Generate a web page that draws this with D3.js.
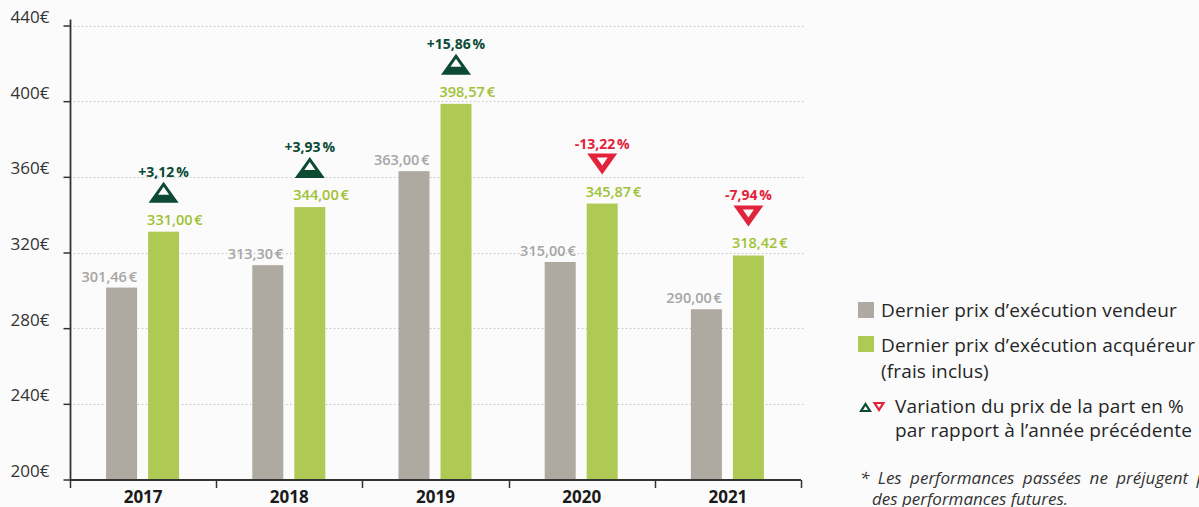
<!DOCTYPE html>
<html><head><meta charset="utf-8">
<script src="https://cdn.jsdelivr.net/npm/d3@7"></script>
<style>
html,body{margin:0;padding:0;background:#fbfbfb;}
svg{display:block;}
text{font-family:"Open Sans",sans-serif;}
</style></head>
<body><svg id="c" width="1199" height="507"></svg>
<script>
const years = ["2017","2018","2019","2020","2021"];
const vendeur = [301.46, 313.30, 363.00, 315.00, 290.00];
const acquereur = [331.00, 344.00, 398.57, 345.87, 318.42];
const variation = [3.12, 3.93, 15.86, -13.22, -7.94];
const yTicks = [200, 240, 280, 320, 360, 400, 440];
const legendLabels = [
  ["Dernier prix d\u2019exécution vendeur"],
  ["Dernier prix d\u2019exécution acquéreur", "(frais inclus)"],
  ["Variation du prix de la part en %", "par rapport à l\u2019année précédente"]
];
const footnote = ["* Les performances passées ne préjugent pas", "des performances futures."];

const C = {gray:"#aeaaa1", green:"#afca54", grayTxt:"#a6a6a6", greenTxt:"#9fc234", up:"#0c4a33", down:"#e3223b", axis:"#333", bg:"#fbfbfb"};

const svg = d3.select("#c");
svg.append("rect").attr("width",1199).attr("height",507).attr("fill",C.bg);

const x = d3.scaleBand().domain(years).range([70, 801]).padding(0);
const y = d3.scaleLinear().domain([200, 440]).range([479.5, 25.5]);
const bw = 31;
const fmt = v => v.toFixed(2).replace(".", ",") + "\u202f€";
const fmtP = v => (v > 0 ? "+" : "") + v.toFixed(2).replace(".", ",") + "\u202f%";

// grid
svg.append("g").selectAll("line").data(yTicks.filter(d => d > 200)).join("line")
  .attr("x1", 70).attr("x2", 804).attr("y1", d => Math.round(y(d)) + 0.5).attr("y2", d => Math.round(y(d)) + 0.5)
  .attr("stroke", "#b8b8b8").attr("stroke-width", 1).attr("stroke-dasharray", "1.2 2.8");

// y axis
const yAxis = d3.axisLeft(y).tickValues(yTicks).tickSize(7).tickPadding(14).tickFormat(d => d + "€");
const gy = svg.append("g").attr("transform", "translate(70.5,0)").call(yAxis);
gy.select(".domain").remove();
gy.selectAll(".tick line").attr("stroke", C.axis).attr("stroke-width", 1.5);
gy.selectAll(".tick text").attr("fill", "#333").style("font-size", "17px").attr("dy", "0").attr("y", -3);
svg.append("line").attr("x1", 70.5).attr("x2", 70.5).attr("y1", y(440) - 6).attr("y2", 480)
  .attr("stroke", C.axis).attr("stroke-width", 1.8);

// bars
const gBars = svg.append("g");
gBars.selectAll(".v").data(years).join("rect")
  .attr("x", d => x(d) + x.bandwidth()/2 - 37).attr("width", bw)
  .attr("y", (d,i) => y(vendeur[i])).attr("height", (d,i) => y(200) - y(vendeur[i]) + 0.5)
  .attr("fill", C.gray);
gBars.selectAll(".a").data(years).join("rect")
  .attr("x", d => x(d) + x.bandwidth()/2 + 5).attr("width", bw)
  .attr("y", (d,i) => y(acquereur[i])).attr("height", (d,i) => y(200) - y(acquereur[i]) + 0.5)
  .attr("fill", C.green);

// x axis
svg.append("line").attr("x1", 70).attr("x2", 801).attr("y1", 480).attr("y2", 480)
  .attr("stroke", C.axis).attr("stroke-width", 1.8);
const bounds = years.map(d => x(d)).concat([x.range()[1]]);
svg.append("g").selectAll("line").data(bounds).join("line")
  .attr("x1", d => Math.round(d) + 0.5).attr("x2", d => Math.round(d) + 0.5).attr("y1", 480).attr("y2", 488)
  .attr("stroke", C.axis).attr("stroke-width", 1.5);
const xAxis = d3.axisBottom(x).tickSize(0).tickPadding(0);
const gx = svg.append("g").attr("transform", "translate(0,480)").call(xAxis);
gx.select(".domain").remove();
gx.selectAll(".tick text").attr("fill", "#1a1a1a").style("font-size", "17px").style("font-weight", "700")
  .attr("dy", "0").attr("y", 23);

// value labels
const labelStyle = sel => sel.style("font-size", "14.5px").style("font-weight", "600").style("letter-spacing", "-0.3px");
svg.append("g").selectAll("text").data(years).join("text")
  .attr("x", d => x(d) + x.bandwidth()/2 - 6).attr("y", (d,i) => y(vendeur[i]) - 6)
  .attr("text-anchor", "end").attr("fill", C.grayTxt).text((d,i) => fmt(vendeur[i])).call(labelStyle);
svg.append("g").selectAll("text").data(years).join("text")
  .attr("x", d => x(d) + x.bandwidth()/2 + 4).attr("y", (d,i) => y(acquereur[i]) - 7)
  .attr("text-anchor", "start").attr("fill", C.greenTxt).text((d,i) => fmt(acquereur[i])).call(labelStyle);

// triangles
function triPath(cx, top, w, h, up, hw, hh, hOff) {
  let outer, inner;
  if (up) {
    outer = `M${cx},${top}L${cx + w/2},${top + h}L${cx - w/2},${top + h}Z`;
    const it = top + hOff;
    inner = `M${cx},${it}L${cx - hw/2},${it + hh}L${cx + hw/2},${it + hh}Z`;
  } else {
    outer = `M${cx - w/2},${top}L${cx + w/2},${top}L${cx},${top + h}Z`;
    const it = top + hOff;
    inner = `M${cx - hw/2},${it}L${cx},${it + hh}L${cx + hw/2},${it}Z`;
  }
  return outer + inner;
}
const gT = svg.append("g");
years.forEach((d, i) => {
  const cx = x(d) + x.bandwidth()/2 + 5 + bw/2;
  const yt = y(acquereur[i]);
  const up = variation[i] > 0;
  gT.append("path").attr("d", triPath(cx, yt - 50, 30, 21, up, 11, 8, up ? 5 : 4))
    .attr("fill", up ? C.up : C.down).attr("fill-rule", "evenodd");
  gT.append("text").attr("x", cx).attr("y", yt - 55).attr("text-anchor", "middle")
    .attr("fill", up ? C.up : C.down).text(fmtP(variation[i]))
    .style("font-size", "14px").style("font-weight", "700").style("letter-spacing", "-0.3px");
});

// legend
const gL = svg.append("g");
gL.append("rect").attr("x", 858).attr("y", 302).attr("width", 16).attr("height", 16).attr("fill", C.gray);
gL.append("rect").attr("x", 858).attr("y", 336).attr("width", 16).attr("height", 16).attr("fill", C.green);
gL.append("path").attr("d", triPath(865.5, 402, 13, 10, true, 5, 4, 4)).attr("fill", C.up).attr("fill-rule", "evenodd");
gL.append("path").attr("d", triPath(879, 402, 13, 10, false, 5, 4, 2)).attr("fill", C.down).attr("fill-rule", "evenodd");
const legStyle = sel => sel.attr("fill", "#262626").style("font-size", "19px").style("letter-spacing", "0.15px");
gL.append("text").attr("x", 881).attr("y", 317).text(legendLabels[0][0]).call(legStyle);
gL.append("text").attr("x", 881).attr("y", 352).text(legendLabels[1][0]).call(legStyle);
gL.append("text").attr("x", 881).attr("y", 378).text(legendLabels[1][1]).call(legStyle);
gL.append("text").attr("x", 895).attr("y", 413).text(legendLabels[2][0]).call(legStyle);
gL.append("text").attr("x", 895).attr("y", 437).text(legendLabels[2][1]).call(legStyle);
const fnStyle = sel => sel.attr("fill", "#333").style("font-size", "17px").style("font-style", "italic");
gL.append("text").attr("x", 860).attr("y", 484).style("word-spacing", "4px").text(footnote[0]).call(fnStyle);
gL.append("text").attr("x", 872).attr("y", 505).text(footnote[1]).call(fnStyle);
</script></body></html>
